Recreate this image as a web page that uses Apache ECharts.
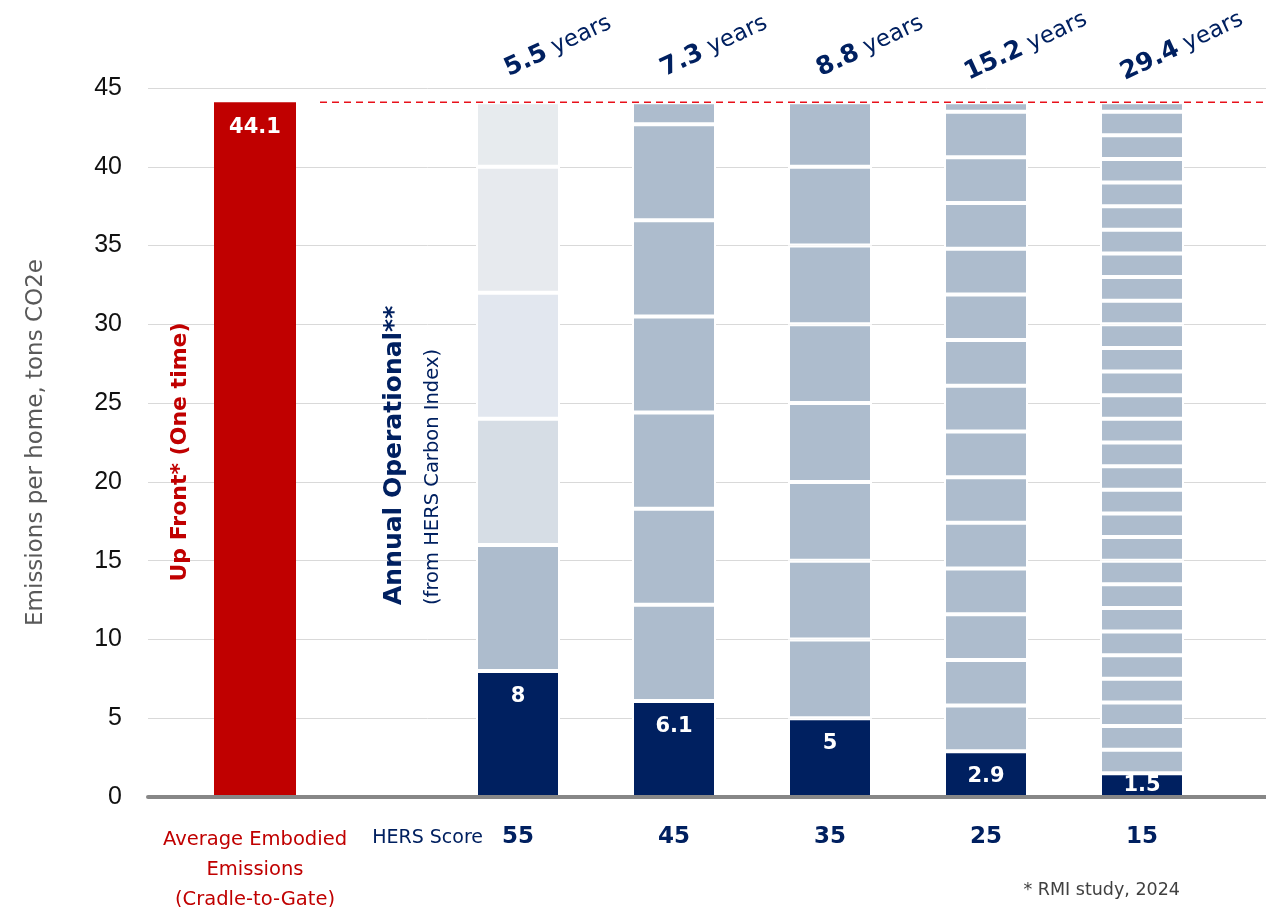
<!DOCTYPE html>
<html><head><meta charset="utf-8">
<script src="https://cdn.jsdelivr.net/npm/echarts@6/dist/echarts.min.js"></script>
<style>html,body{margin:0;padding:0;background:#fff}#c{width:1266px;height:907px}</style>
</head><body><div id="c"></div>
<script>
// ---- data ----
const embodiedCategory = ['Average Embodied\nEmissions\n(Cradle-to-Gate)'];
const embodiedValue = [44.1];
const hersScores = ['55', '45', '35', '25', '15'];
const annualOperational = [8, 6.1, 5, 2.9, 1.5];
const paybackYears = ['5.5', '7.3', '8.8', '15.2', '29.4'];
const yAxisMin = 0, yAxisMax = 45, yAxisStep = 5;

// ---- styles ----
const FONT = 'DejaVu Sans';
const TICK_FONT = 'Liberation Sans';
const NAVY = '#002060';
const RED = '#c00000';
const SEG_GREY = '#adbccd';
const FADE_55 = [NAVY, '#adbccd', '#d6dde5', '#e2e7ef', '#e7eaee', '#e7ebee'];

// build stacked annual segments up to the up-front total
const total = embodiedValue[0];
const segments = annualOperational.map(a => {
  const full = Math.floor(total / a + 1e-9);
  const arr = Array(full).fill(a);
  const rem = Math.round((total - full * a) * 10) / 10;
  if (rem > 0) arr.push(rem);
  return arr;
});
const maxSeg = Math.max(...segments.map(s => s.length));

const series = [{
  type: 'bar', xAxisIndex: 0, yAxisIndex: 0, data: embodiedValue, barWidth: 82,
  itemStyle: {color: RED},
  label: {show: true, position: 'insideTop', distance: 15, color: '#fff', fontSize: 21, fontWeight: 'bold', fontFamily: FONT}
}];
for (let k = 0; k < maxSeg; k++) {
  series.push({
    type: 'bar', xAxisIndex: 1, yAxisIndex: 1, stack: 'ops', barWidth: 84,
    data: segments.map((s, i) => {
      if (k >= s.length) return null;
      if (k === 0 && s[k] < 2) return {value: s[k], label: {position: 'inside'}};
      return s[k];
    }),
    itemStyle: {
      borderColor: '#fff', borderWidth: 2,
      color: p => (k === 0 ? NAVY : (p.dataIndex === 0 ? FADE_55[Math.min(k, FADE_55.length - 1)] : SEG_GREY))
    },
    label: k === 0 ? {show: true, position: 'insideTop', distance: 15, color: '#fff', fontSize: 21, fontWeight: 'bold', fontFamily: FONT,
      formatter: p => String(annualOperational[p.dataIndex])} : {show: false}
  });
}

const option = {
  animation: false,
  textStyle: {fontFamily: FONT},
  grid: [
    {left: 148, top: 88, width: 214, height: 709, outerBoundsMode: 'none'},
    {left: 440, top: 88, width: 780, height: 709, outerBoundsMode: 'none'},
    {left: 148, top: 88, right: 0, height: 709, outerBoundsMode: 'none'}
  ],
  xAxis: [
    {gridIndex: 0, type: 'category', data: embodiedCategory, axisLine: {show: false}, axisTick: {show: false},
      axisLabel: {color: RED, fontSize: 19.5, lineHeight: 30, margin: 28, fontFamily: FONT}},
    {gridIndex: 1, type: 'category', data: hersScores, axisLine: {show: false}, axisTick: {show: false},
      axisLabel: {color: NAVY, fontSize: 23, fontWeight: 'bold', margin: 29, fontFamily: FONT}},
    {gridIndex: 2, type: 'value', min: 0, max: 1, z: 10,
      axisLine: {show: true, lineStyle: {color: '#878787', width: 4}},
      axisTick: {show: false}, axisLabel: {show: false}, splitLine: {show: false}}
  ],
  yAxis: [
    {gridIndex: 0, type: 'value', min: yAxisMin, max: yAxisMax, interval: yAxisStep, show: false},
    {gridIndex: 1, type: 'value', min: yAxisMin, max: yAxisMax, interval: yAxisStep, show: false},
    {gridIndex: 2, type: 'value', min: yAxisMin, max: yAxisMax, interval: yAxisStep,
      axisLine: {show: false}, axisTick: {show: false},
      axisLabel: {fontSize: 25, color: '#111', margin: 26, fontFamily: TICK_FONT},
      splitLine: {lineStyle: {color: '#d9d9d9', width: 1}},
      name: 'Emissions per home, tons CO2e', nameLocation: 'middle', nameGap: 100,
      nameTextStyle: {fontSize: 23, color: '#595959', fontFamily: FONT}}
  ],
  series: series
};

const chart = echarts.init(document.getElementById('c'), null, {renderer: 'canvas'});
chart.setOption(option);

const yTop = chart.convertToPixel({yAxisIndex: 1}, total);
const graphics = [];
hersScores.forEach((s, i) => {
  const x = chart.convertToPixel({xAxisIndex: 1}, s);
  graphics.push({
    type: 'text', x: x + 40, y: yTop - 56, rotation: 25 * Math.PI / 180, z: 20,
    style: {
      text: '{b|' + paybackYears[i] + '}{n| years}', align: 'center', verticalAlign: 'middle',
      rich: {
        b: {fontSize: 25, fontWeight: 'bold', fill: NAVY, fontFamily: FONT},
        n: {fontSize: 23, fill: NAVY, fontFamily: FONT}
      }
    }
  });
});
graphics.push(
  {type: 'line', z: 20, shape: {x1: 320, y1: yTop, x2: 1264, y2: yTop},
    style: {stroke: '#e8101a', lineWidth: 1.5, lineDash: [7, 5]}},
  {type: 'text', x: 180, y: 452, rotation: Math.PI / 2, z: 20,
    style: {text: 'Up Front* (One time)', fill: RED, font: 'bold 22px ' + FONT, align: 'center', verticalAlign: 'middle'}},
  {type: 'text', x: 394, y: 605, rotation: Math.PI / 2, z: 20,
    style: {text: 'Annual Operational**', fill: NAVY, font: 'bold 25px ' + FONT, align: 'left', verticalAlign: 'middle'}},
  {type: 'text', x: 433, y: 605, rotation: Math.PI / 2, z: 20,
    style: {text: '(from HERS Carbon Index)', fill: NAVY, font: '19.5px ' + FONT, align: 'left', verticalAlign: 'middle'}},
  {type: 'text', x: 483, y: 838, z: 20,
    style: {text: 'HERS Score', fill: NAVY, font: '19px ' + FONT, align: 'right', verticalAlign: 'middle'}},
  {type: 'text', x: 1180, y: 890, z: 20,
    style: {text: '* RMI study, 2024', fill: '#404040', font: '17.5px ' + FONT, align: 'right', verticalAlign: 'middle'}}
);
chart.setOption({graphic: graphics});
</script>
</body></html>
